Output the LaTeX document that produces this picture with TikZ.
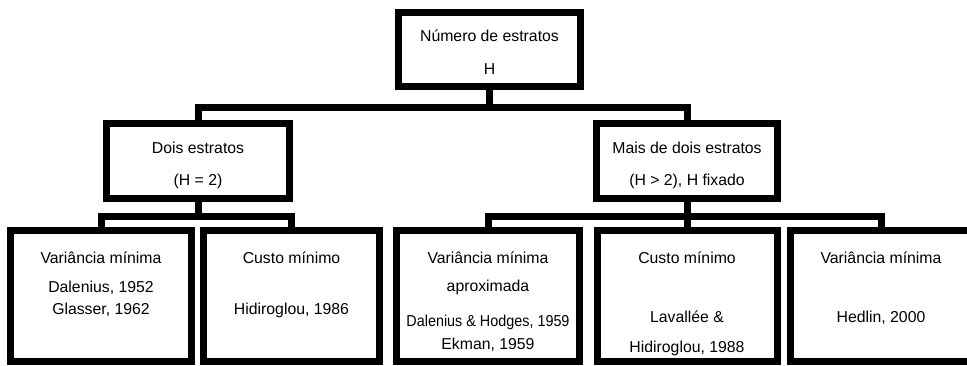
\documentclass[tikz,border=0pt]{standalone}
\usepackage{fontspec}
\setmainfont{Liberation Sans}
\usepackage{tikz}
\usetikzlibrary{positioning}
\tikzset{
    box/.style = {rectangle, draw=black, line width=7pt, inner sep=0pt, minimum width=182pt, minimum height=75pt},
    leaf/.style = {box, minimum width=181pt, minimum height=131pt},
    link/.style = {draw=black, line width=7pt},
    txt/.style = {inner sep=0pt, anchor=base, font=\fontsize{15.8}{19}\selectfont}
}

\begin{document}
\begin{tikzpicture}[x=1pt, y=-1pt]
\path[fill=white] (0,0) rectangle (967,366);
\useasboundingbox (0,0) rectangle (967,366);
\clip (0,0) rectangle (967,366);
% boxes
\node[box, minimum height=74pt] at (489.5, 49.5) (top) {};
\node[box, minimum width=183pt] at (198, 161) (dois) {};
\node[box, minimum width=181pt] at (687, 161.5) (mais) {};
\node[leaf] at (101, 296) (b1) {};
\node[leaf, minimum width=176pt] at (291.5, 296) (b2) {};
\node[leaf, minimum width=183pt] at (488, 296) (b3) {};
\node[leaf, minimum width=180pt] at (687, 296) (b4) {};
\node[leaf] at (881, 296) (b5) {};
% texts
\node[txt] at (489.5, 41.5) (t1) {Número de estratos};
\node[txt] at (489.5, 75) (t2) {H};
\node[txt] at (198, 154) (d1) {Dois estratos};
\node[txt] at (198, 186) (d2) {(H = 2)};
\node[txt] at (687, 154) (m1) {Mais de dois estratos};
\node[txt] at (687, 186) (m2) {(H > 2), H fixado};
\node[txt] at (101, 264) (b1a) {Variância mínima};
\node[txt] at (101, 292) (b1b) {Dalenius, 1952};
\node[txt] at (101, 314) (b1c) {Glasser, 1962};
\node[txt] at (291.5, 264) (b2a) {Custo mínimo};
\node[txt] at (291.5, 314) (b2b) {Hidiroglou, 1986};
\node[txt] at (488, 264) (b3a) {Variância mínima};
\node[txt] at (488, 291) (b3b) {aproximada};
\node[txt] at (488, 326) (b3c) {\scalebox{0.91}[1]{Dalenius \& Hodges, 1959}};
\node[txt] at (488, 349) (b3d) {Ekman, 1959};
\node[txt] at (687, 264) (b4a) {Custo mínimo};
\node[txt] at (687, 322) (b4b) {Lavallée \&};
\node[txt] at (687, 352) (b4c) {Hidiroglou, 1988};
\node[txt] at (881, 264) (b5a) {Variância mínima};
\node[txt] at (881, 322) (b5b) {Hedlin, 2000};
% connectors
\draw[link] (top.south) -- ++(0,17.5) -| (dois.north);
\draw[link] (top.south) -- ++(0,17.5) -| (mais.north);
\draw[link] (dois.south) -- ++(0,14.5) -| (b1.north);
\draw[link] (dois.south) -- ++(0,14.5) -| (b2.north);
\draw[link] (mais.south) -- ++(0,14) -| (b3.north);
\draw[link] (mais.south) -- ++(0,14) -| (b5.north);
\draw[link] (mais.south) -- (b4.north);
\end{tikzpicture}
\end{document}
